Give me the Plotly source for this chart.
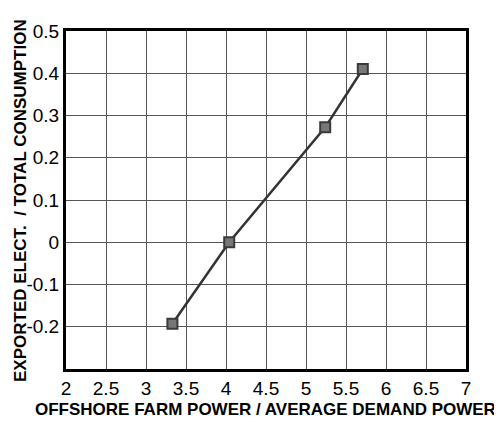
import plotly.graph_objects as go

x_vals = [3.33, 4.04, 5.24, 5.71]
y_vals = [-0.193, 0.0, 0.272, 0.41]
x_ticks = [2, 2.5, 3, 3.5, 4, 4.5, 5, 5.5, 6, 6.5, 7]
x_ticktext = ["2", "2.5", "3", "3.5", "4", "4.5", "5", "5.5", "6", "6.5", "7"]
y_ticks = [-0.3, -0.2, -0.1, 0, 0.1, 0.2, 0.3, 0.4, 0.5]
y_ticktext = ["", "-0.2", "-0.1", "0", "0.1", "0.2", "0.3", "0.4", "0.5"]
x_title = "OFFSHORE FARM POWER / AVERAGE DEMAND POWER"
y_title = "EXPORTED ELECT.  / TOTAL CONSUMPTION"

# page body has an 8px default margin; figure is sized to fit the 502x421 window
OFF = 8
W, H = 502 - OFF, 421 - OFF
L, R, T, B = 66 - OFF, 36, 31 - OFF, 52
pw, ph = W - L - R, H - T - B

fig = go.Figure()
fig.add_trace(go.Scatter(
    x=x_vals, y=y_vals, mode="lines+markers",
    line=dict(color="#333333", width=2.5),
    marker=dict(symbol="square", size=10, color="#777777",
                line=dict(color="#3a3a3a", width=2)),
    showlegend=False,
))

font = "Liberation Sans, Arial, sans-serif"
fig.update_layout(
    width=W, height=H,
    margin=dict(l=L, r=R, t=T, b=B),
    paper_bgcolor="white", plot_bgcolor="white",
    font=dict(family=font, color="black"),
    xaxis=dict(
        range=[2, 7], tickvals=x_ticks, ticktext=x_ticktext,
        showgrid=True, gridcolor="#555555", gridwidth=1,
        showline=True, linecolor="black", linewidth=3, mirror=True,
        ticks="", tickfont=dict(size=19, family=font),
        zeroline=False, automargin=False,
    ),
    yaxis=dict(
        range=[-0.3, 0.5], tickvals=y_ticks, ticktext=y_ticktext,
        showgrid=True, gridcolor="#555555", gridwidth=1,
        showline=True, linecolor="black", linewidth=3, mirror=True,
        ticks="", tickfont=dict(size=19, family=font),
        zeroline=False, automargin=False,
    ),
    annotations=[
        dict(text="<b>" + x_title + "</b>", showarrow=False,
             xref="paper", yref="paper",
             x=(265 - 66) / pw, y=(369 - 409) / ph,
             xanchor="center", yanchor="middle",
             font=dict(size=17, family=font, color="black")),
        dict(text="<b>" + y_title + "</b>", textangle=-90, showarrow=False,
             xref="paper", yref="paper",
             x=(20 - 66) / pw, y=(369 - 201) / ph,
             xanchor="center", yanchor="middle",
             font=dict(size=17, family=font, color="black")),
    ],
)
fig.write_html("out.html")
